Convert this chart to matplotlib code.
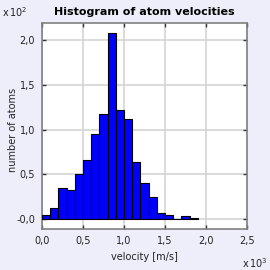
import numpy as np
from matplotlib import pyplot as plt
from matplotlib.ticker import FuncFormatter

# histogram of 1000 atom velocities, bins of 100 m/s
bin_edges = np.arange(0, 2000, 100)
counts = [5, 12, 35, 33, 50, 66, 95, 117, 208, 122, 112, 64, 40, 25, 7, 5, 0, 3, 1]

x_ticks = [0, 500, 1000, 1500, 2000, 2500]
y_ticks = [0, 50, 100, 150, 200]

bg = '#eeeefb'

fig = plt.figure(figsize=(2.7, 2.7), dpi=100, facecolor=bg)
ax = fig.add_axes([42/270, 41/270, 205/270, 206/270])
ax.set_facecolor('white')

ax.bar(bin_edges[:-1], counts, width=100, align='edge',
       color='#0000ff', edgecolor='black', linewidth=0.8, zorder=3)

ax.set_xlim(0, 2500)
ax.set_ylim(-11, 219)
ax.set_xticks(x_ticks)
ax.set_yticks(y_ticks)

def fmt_x(v, pos):
    return ('%.1f' % (v / 1000.)).replace('.', ',')

def fmt_y(v, pos):
    if v == 0:
        return '-0,0'
    return ('%.1f' % (v / 100.)).replace('.', ',')

ax.xaxis.set_major_formatter(FuncFormatter(fmt_x))
ax.yaxis.set_major_formatter(FuncFormatter(fmt_y))

ax.grid(True, color='#d4d4d4', linewidth=1.2, zorder=0)
ax.tick_params(direction='in', length=3, width=1, color='#333333',
               top=True, right=True, labelsize=7, pad=5, labelcolor='#222222')
for s in ax.spines.values():
    s.set_color('#808080')
    s.set_linewidth(1.2)

ax.set_xlabel('velocity [m/s]', fontsize=7, color='#222222', labelpad=4)
fig.text(13/270, 1 - 130/270, 'number of atoms', fontsize=7, color='#222222',
         rotation=90, ha='center', va='center')
fig.text(144/270, 1 - 12/270, 'Histogram of atom velocities', fontsize=8,
         fontweight='bold', ha='center', va='center')
fig.text(2/270, 1 - 12/270, r'x$\,$10$^2$', fontsize=7, ha='left', va='center', color='#222222')
fig.text(268/270, 1 - 263/270, r'x$\,$10$^3$', fontsize=7, ha='right', va='center', color='#222222')

fig.savefig('out.png', dpi=100, facecolor=bg)
